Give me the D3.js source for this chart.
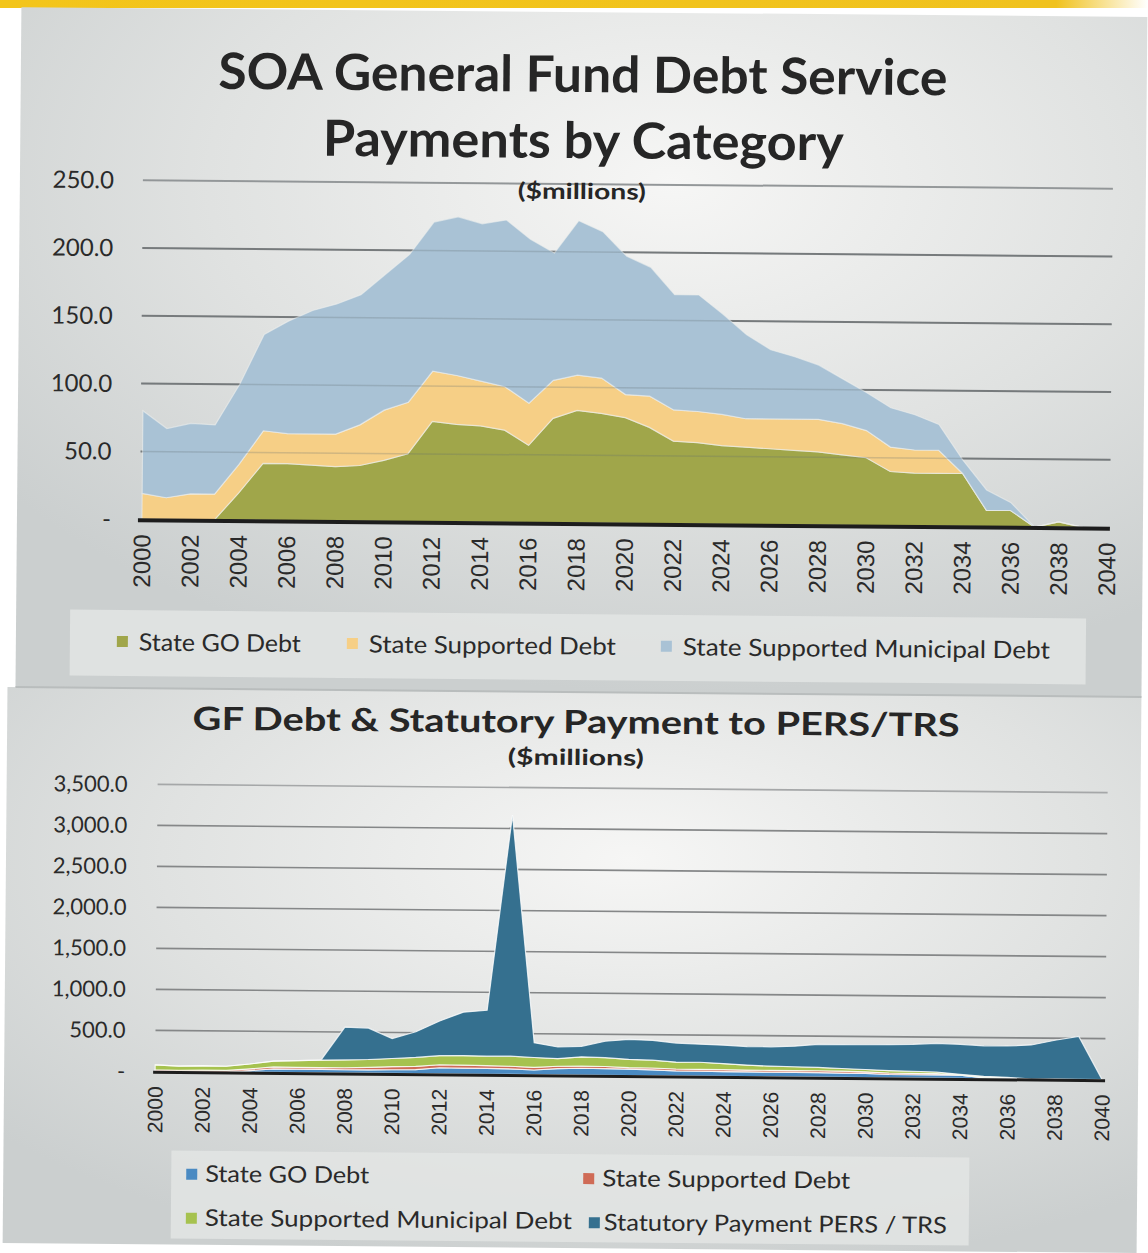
<!DOCTYPE html>
<html>
<head>
<meta charset="utf-8">
<script src="https://cdn.jsdelivr.net/npm/d3@7/dist/d3.min.js"></script>
<style>
  html, body { margin: 0; padding: 0; background: #ffffff; }
  svg { display: block; }
  text { font-family: Lato, "Open Sans", sans-serif; fill: #222; }
</style>
</head>
<body>
<svg id="chart" width="1148" height="1253"></svg>
<script>
// ---------- DATA ----------
const years = [2000,2001,2002,2003,2004,2005,2006,2007,2008,2009,2010,2011,2012,2013,2014,2015,2016,2017,2018,2019,
               2020,2021,2022,2023,2024,2025,2026,2027,2028,2029,2030,2031,2032,2033,2034,2035,2036,2037,2038,2039,2040];
const goDebt        = [0,0,0,0,20,42,42,41,40,41,45,50,74,72,71,68,57,77,83,81,
                       78,71,61,60,58,57,56,55,54,52,50,40,39,39,39,12,12,0,4,0,0];
const supportedDebt = [19,16,19,19,21,24,22,23,24,30,37,38,37,36,33,32,31,28,26,26,
                       17,23,23,23,23,21,22,23,24,23,20,18,17,17,0,0,0,0,0,0,0];
const municipalDebt = [61,51,52,51,59,71,83,91,96,96,100,109,110,117,116,123,121,94,114,108,
                       102,95,85,86,74,62,51,46,40,33,28,29,26,19,10,15,6,0,0,0,0];
const persTrs       = [0,0,0,0,0,0,0,0,400,383,243,313,424,530,560,2940,181,141,127,200,
                       243,241,231,221,225,225,236,251,282,292,302,318,328,350,366,373,382,415,471,525,0];

const xTickYears = [2000,2002,2004,2006,2008,2010,2012,2014,2016,2018,2020,2022,2024,2026,2028,2030,2032,2034,2036,2038,2040];
const topYTicks = [0,50,100,150,200,250];
const topYLabels = ["-","50.0","100.0","150.0","200.0","250.0"];
const botYTicks = [0,500,1000,1500,2000,2500,3000,3500];
const botYLabels = ["-","500.0","1,000.0","1,500.0","2,000.0","2,500.0","3,000.0","3,500.0"];

const topSeries = ["State GO Debt","State Supported Debt","State Supported Municipal Debt"];
const topColors = ["#a0a64a","#f6cf86","#a9c2d5"];
const botSeries = ["State GO Debt","State Supported Debt","State Supported Municipal Debt","Statutory Payment PERS / TRS"];
const botColors = ["#4a8ac2","#cf6b56","#a6c24f","#35708f"];

// ---------- SETUP ----------
const root = d3.select("#chart");
const defs = root.append("defs");

function panelGrad(id, cx, cy) {
  const g = defs.append("radialGradient").attr("id", id)
    .attr("cx", cx).attr("cy", cy).attr("r", "0.75");
  g.append("stop").attr("offset", "0%").attr("stop-color", "#f6f6f5");
  g.append("stop").attr("offset", "55%").attr("stop-color", "#e0e2e1");
  g.append("stop").attr("offset", "100%").attr("stop-color", "#cbcfcf");
}
panelGrad("g1", "0.58", "0.25");
panelGrad("g2", "0.55", "0.3");
const yb = defs.append("linearGradient").attr("id","yb").attr("x1","0").attr("x2","1");
yb.append("stop").attr("offset","0%").attr("stop-color","#f3c51a");
yb.append("stop").attr("offset","92%").attr("stop-color","#f0c21e");
yb.append("stop").attr("offset","100%").attr("stop-color","#ffffff");

root.append("rect").attr("x",0).attr("y",0).attr("width",1148).attr("height",1253).attr("fill","#ffffff");
root.append("rect").attr("x",0).attr("y",0).attr("width",1148).attr("height",8).attr("fill","url(#yb)");

// whole scanned page is slightly rotated
const svg = root.append("g").attr("transform", "rotate(0.5,575,630)");

svg.append("rect").attr("x",16).attr("y",12).attr("width",1126).attr("height",680).attr("fill","url(#g1)");
svg.append("rect").attr("x",8).attr("y",692).attr("width",1134).attr("height",556).attr("fill","url(#g2)");
svg.append("line").attr("x1",16).attr("x2",1142).attr("y1",692).attr("y2",692).attr("stroke","#b9bdbd").attr("stroke-width",2);

// ---------- TOP CHART ----------
const xTop = d3.scaleLinear().domain([2000, 2040]).range([141, 1106]);
const yTop = d3.scaleLinear().domain([0, 250]).range([523, 184]);

const topData = years.map((y, i) => ({year: y, a: goDebt[i], b: supportedDebt[i], c: municipalDebt[i]}));
const topStack = d3.stack().keys(["a","b","c"])(topData);

const gTop = svg.append("g");
gTop.append("g").selectAll("line").data(topYTicks.slice(1)).join("line")
  .attr("x1", 139).attr("x2", 1109)
  .attr("y1", d => yTop(d)).attr("y2", d => yTop(d))
  .attr("stroke", (d) => d === 250 ? "#a3a5a6" : "#7d7f80").attr("stroke-width", 2);

const areaTop = d3.area().x(d => xTop(d.data.year)).y0(d => yTop(d[0])).y1(d => yTop(d[1]));
gTop.append("g").selectAll("path").data(topStack).join("path")
  .attr("d", areaTop).attr("fill", (d, i) => topColors[i])
  .attr("stroke", "#eef0ef").attr("stroke-width", 1.2).attr("stroke-opacity", 0.6);

gTop.append("g").selectAll("line").data(topYTicks.slice(1)).join("line")
  .attr("x1", 139).attr("x2", 1109)
  .attr("y1", d => yTop(d)).attr("y2", d => yTop(d))
  .attr("stroke", "#5f6a70").attr("stroke-width", 1.5).attr("stroke-opacity", 0.25);

gTop.append("line").attr("x1", 137).attr("x2", 1109).attr("y1", yTop(0)+1).attr("y2", yTop(0)+1)
  .attr("stroke", "#1d1d1d").attr("stroke-width", 4);

gTop.append("g").selectAll("text").data(topYTicks).join("text")
  .attr("x", 110).attr("y", d => yTop(d)).attr("dy", "0.35em")
  .attr("text-anchor", "end").style("font-size", "24px").style("fill", "#2a2a2a")
  .text((d, i) => topYLabels[i]);

gTop.append("g").selectAll("text").data(xTickYears).join("text")
  .attr("transform", d => `translate(${xTop(d)},538) rotate(-90)`)
  .attr("dy", "0.36em").attr("text-anchor", "end")
  .style("font-family", "'Liberation Sans', Arial, sans-serif").style("font-size", "24px").style("fill", "#2a2a2a")
  .text(d => d);

svg.append("text").attr("x", 578).attr("y", 92).attr("text-anchor", "middle")
  .style("font-size", "50px").style("font-weight", "700").style("fill", "#262626")
  .attr("textLength", 729).attr("lengthAdjust", "spacingAndGlyphs")
  .text("SOA General Fund Debt Service");
svg.append("text").attr("x", 579).attr("y", 158).attr("text-anchor", "middle")
  .style("font-size", "50px").style("font-weight", "700").style("fill", "#262626")
  .attr("textLength", 521).attr("lengthAdjust", "spacingAndGlyphs")
  .text("Payments by Category");
svg.append("text").attr("x", 578).attr("y", 199).attr("text-anchor", "middle")
  .style("font-size", "22px").style("font-weight", "700").style("fill", "#262626")
  .attr("textLength", 128).attr("lengthAdjust", "spacingAndGlyphs")
  .text("($millions)");

// top legend
svg.append("rect").attr("x", 70).attr("y", 614).attr("width", 1016).attr("height", 66).attr("fill", "#e4e6e5").attr("opacity", 0.8);
const topLegX = [117, 347, 661];
const topLegTextW = [162, 247, 367];
const topLeg = svg.append("g").selectAll("g").data(topSeries).join("g")
  .attr("transform", (d, i) => `translate(${topLegX[i]},646)`);
topLeg.append("rect").attr("x", 0).attr("y", -6).attr("width", 11).attr("height", 11).attr("fill", (d, i) => topColors[i]);
topLeg.append("text").attr("x", 22).attr("y", 0).attr("dy", "0.35em")
  .style("font-size", "24px").style("fill", "#2a2a2a")
  .attr("textLength", (d, i) => topLegTextW[i]).attr("lengthAdjust", "spacingAndGlyphs")
  .text(d => d);

// ---------- BOTTOM CHART ----------
const xBot = d3.scaleLinear().domain([2000, 2040]).range([159, 1106]);
const yBot = d3.scaleLinear().domain([0, 3500]).range([1075, 788]);

const botData = years.map((y, i) => ({year: y, a: goDebt[i], b: supportedDebt[i], c: municipalDebt[i], d: persTrs[i]}));
const botStack = d3.stack().keys(["a","b","c","d"])(botData);

const gBot = svg.append("g");
gBot.append("g").selectAll("line").data(botYTicks.slice(1)).join("line")
  .attr("x1", 159).attr("x2", 1109)
  .attr("y1", d => yBot(d)).attr("y2", d => yBot(d))
  .attr("stroke", (d) => d === 3500 ? "#a5a7a8" : "#858788").attr("stroke-width", 1.6);

const areaBot = d3.area().x(d => xBot(d.data.year)).y0(d => yBot(d[0])).y1(d => yBot(d[1]));
gBot.append("g").selectAll("path").data(botStack).join("path")
  .attr("d", areaBot).attr("fill", (d, i) => botColors[i])
  .attr("stroke", "#ffffff").attr("stroke-width", 1.2).attr("stroke-opacity", 0.8);

gBot.append("line").attr("x1", 157).attr("x2", 1109).attr("y1", yBot(0)+1).attr("y2", yBot(0)+1)
  .attr("stroke", "#1d1d1d").attr("stroke-width", 3);

gBot.append("g").selectAll("text").data(botYTicks).join("text")
  .attr("x", 129).attr("y", d => yBot(d)).attr("dy", "0.35em")
  .attr("text-anchor", "end").style("font-size", "22px").style("fill", "#2a2a2a")
  .text((d, i) => botYLabels[i]);

gBot.append("g").selectAll("text").data(xTickYears).join("text")
  .attr("transform", d => `translate(${xBot(d)},1090) rotate(-90)`)
  .attr("dy", "0.36em").attr("text-anchor", "end")
  .style("font-family", "'Liberation Sans', Arial, sans-serif").style("font-size", "21px").style("fill", "#2a2a2a")
  .text(d => d);

svg.append("text").attr("x", 577).attr("y", 733).attr("text-anchor", "middle")
  .style("font-size", "32px").style("font-weight", "700").style("fill", "#262626")
  .attr("textLength", 767).attr("lengthAdjust", "spacingAndGlyphs")
  .text("GF Debt & Statutory Payment to PERS/TRS");
svg.append("text").attr("x", 577).attr("y", 765).attr("text-anchor", "middle")
  .style("font-size", "22px").style("font-weight", "700").style("fill", "#262626")
  .attr("textLength", 136).attr("lengthAdjust", "spacingAndGlyphs")
  .text("($millions)");

// bottom legend
svg.append("rect").attr("x", 176).attr("y", 1154).attr("width", 798).attr("height", 88).attr("fill", "#e4e6e5").attr("opacity", 0.8);
const botLegPos = [[191, 1177], [588, 1178], [191, 1221], [594, 1222]];
const botLegTextW = [164, 248, 367, 343];
const botLeg = svg.append("g").selectAll("g").data(botSeries).join("g")
  .attr("transform", (d, i) => `translate(${botLegPos[i][0]},${botLegPos[i][1]})`);
botLeg.append("rect").attr("x", 0).attr("y", -5).attr("width", 11).attr("height", 11).attr("fill", (d, i) => botColors[i]);
botLeg.append("text").attr("x", (d, i) => i === 3 ? 15 : 19).attr("y", 0).attr("dy", "0.35em")
  .style("font-size", "23px").style("fill", "#2a2a2a")
  .attr("textLength", (d, i) => botLegTextW[i]).attr("lengthAdjust", "spacingAndGlyphs")
  .text(d => d);
</script>
</body>
</html>
